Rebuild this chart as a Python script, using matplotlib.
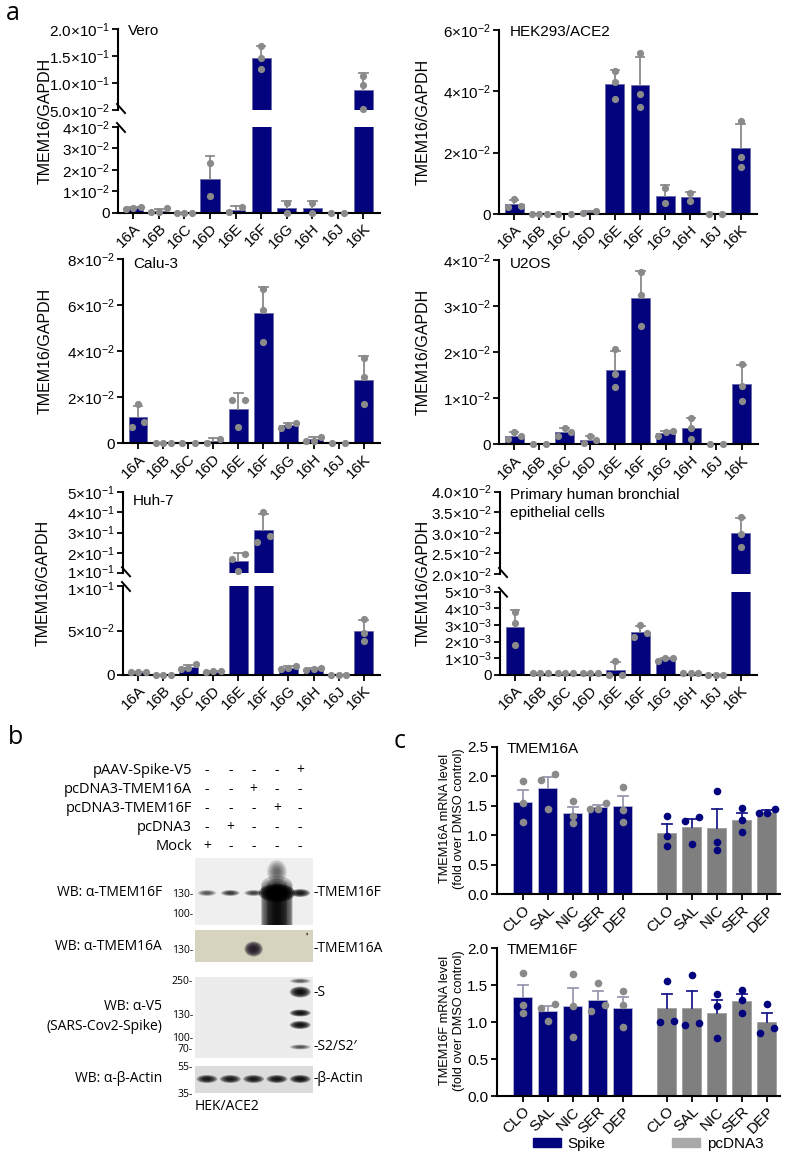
import numpy as np
import matplotlib
matplotlib.use("Agg")
import matplotlib.pyplot as plt
import matplotlib.transforms as mtrans
from matplotlib.patches import Ellipse, Patch

plt.rcParams['font.family'] = ['Liberation Sans', 'DejaVu Sans']
plt.rcParams['mathtext.fontset'] = 'custom'
plt.rcParams['mathtext.rm'] = 'Liberation Sans'
plt.rcParams['mathtext.it'] = 'Liberation Sans:italic'
plt.rcParams['mathtext.bf'] = 'Liberation Sans:bold'

# ---- data: panel a (TMEM16 / GAPDH, replicate points) ----
genes = ['16A', '16B', '16C', '16D', '16E', '16F', '16G', '16H', '16J', '16K']

vero = [[0.0015, 0.0028, 0.002], [0.0005, 0.002, 0.0005], [0, 0, 0], [0.0233, 0.0078],
        [0.0003, 0.0025], [0.168, 0.147, 0.126], [0.0047, 0.0], [0.0047, 0.0], [0, 0],
        [0.113, 0.096, 0.052]]
hek = [[0.0024, 0.0048, 0.0025], [0, 0, 0], [0, 0], [0.0004, 0.0009],
       [0.0467, 0.0431, 0.0374], [0.0525, 0.039, 0.0348], [0.0084, 0.0035], [0.0068, 0.0044],
       [0, 0], [0.0303, 0.0187, 0.0154]]
calu = [[0.0171, 0.0094, 0.0072], [0, 0, 0], [0, 0], [0.0003, 0.0018],
        [0.019, 0.019, 0.007], [0.0672, 0.058, 0.0442], [0.0067, 0.0087, 0.0079],
        [0.001, 0.0029, 0.0012], [0, 0], [0.0372, 0.0287, 0.017]]
u2os = [[0.0026, 0.0011, 0.0018], [0, 0], [0.0035, 0.0018, 0.0026], [0.0019, 0.0002, 0.0009],
        [0.0207, 0.0152, 0.0125], [0.0373, 0.0325, 0.0257], [0.0018, 0.0028, 0.0026],
        [0.0058, 0.0035, 0.0012], [0, 0], [0.0174, 0.0127, 0.0093]]
huh7 = [[0.003, 0.003, 0.003], [0, 0, 0], [0.012, 0.008, 0.0064], [0.004, 0.0035, 0.004],
        [0.193, 0.17, 0.113], [0.399, 0.283, 0.255], [0.01, 0.0075, 0.0064],
        [0.008, 0.0064, 0.0056], [0, 0, 0], [0.0625, 0.0476, 0.0386]]
phbe = [[0.0038, 0.0031, 0.0018], [0.0001, 0.0001, 0.0001], [0.0001, 0.0001, 0.0001],
        [0.0001, 0.0001, 0.0001], [0.00084, 0, 0], [0.003, 0.0023, 0.0025],
        [0.00084, 0.001, 0.001], [0.0001, 0.0001, 0.0001], [0, 0, 0], [0.0338, 0.0296, 0.0266]]

# ---- data: panel c (fold over DMSO) ----
drugs = ['CLO', 'SAL', 'NIC', 'SER', 'DEP']
a_spike = [[1.92, 1.54, 1.23], [2.03, 1.94, 1.44], [1.58, 1.33, 1.20], [1.55, 1.44, 1.44], [1.81, 1.43, 1.23]]
a_pcdna = [[1.33, 0.98, 0.82], [1.31, 1.24, 0.85], [1.75, 0.89, 0.75], [1.46, 1.26, 1.06], [1.45, 1.37, 1.37]]
f_spike = [[1.67, 1.23, 1.13], [1.25, 1.19, 1.02], [1.65, 1.22, 0.80], [1.53, 1.23, 1.15], [1.42, 1.23, 0.94]]
f_pcdna = [[1.56, 1.00, 1.02], [1.64, 0.96, 0.99], [1.38, 1.22, 0.79], [1.44, 1.30, 1.13], [1.24, 0.85, 0.92]]

# ---- data: panel b (blot) ----
row_labels = ['pAAV-Spike-V5', 'pcDNA3-TMEM16A', 'pcDNA3-TMEM16F', 'pcDNA3', 'Mock']
signs = [['-', '-', '-', '-', '+'],
         ['-', '-', '+', '-', '-'],
         ['-', '-', '-', '+', '-'],
         ['-', '+', '-', '-', '-'],
         ['+', '-', '-', '-', '-']]
f_band = [0.45, 0.6, 0.55, 0, 0.85]
actin_band = [0.85, 0.85, 0.85, 0.9, 0.95]
spike_rows = [4, 15, 36, 48, 70]
spike_h = [5, 11, 7, 8, 5]
spike_k = [0.4, 1.0, 0.95, 0.95, 0.45]

NAVY = '#03037e'
EDGE = '#6a6aa6'
DOT = '#8a8a8a'
GREYBAR = '#7f7f7f'
BFONT = ['Open Sans', 'DejaVu Sans']

W, H = 800, 1157
fig = plt.figure(figsize=(8, 11.57), dpi=100)


def rect(x0, y0, x1, y1):
    return [x0 / W, 1 - y1 / H, (x1 - x0) / W, (y1 - y0) / H]


ov = fig.add_axes([0, 0, 1, 1], zorder=10)
ov.set_xlim(0, W)
ov.set_ylim(H, 0)
ov.axis('off')
ov.patch.set_alpha(0)


def sci(v, dec=0):
    if v == 0:
        return '0'
    e = int(np.floor(np.log10(v) + 1e-9))
    m = v / 10 ** e
    return r'$\mathregular{%.*f{\times}10^{%d}}$' % (dec, m, e)


def spread(vals, topix, dot=6.5, step=0.3):
    order = np.argsort(vals, kind='stable')
    offs = np.zeros(len(vals))
    groups = []
    for i in order:
        if groups and abs(topix(vals[i]) - topix(vals[groups[-1][0]])) < dot:
            groups[-1].append(i)
        else:
            groups.append([i])
    for g in groups:
        pat = {1: [0], 2: [-step * 0.85, step * 0.85], 3: [-step, 0, step]}[len(g)]
        for k, i in enumerate(g):
            offs[i] = pat[k]
    return offs


def style(ax, bottom=True):
    for s in ['top', 'right']:
        ax.spines[s].set_visible(False)
    ax.spines['left'].set_linewidth(1.5)
    ax.spines['bottom'].set_linewidth(1.5)
    if not bottom:
        ax.spines['bottom'].set_visible(False)
        ax.tick_params(axis='x', bottom=False, labelbottom=False)
    ax.tick_params(direction='out', length=4.5, width=1.3, labelsize=11, pad=1.5)
    ax.patch.set_alpha(0)


def nudge(lab, dy_px):
    lab.set_transform(lab.get_transform() +
                      mtrans.ScaledTranslation(0, dy_px / 100, fig.dpi_scale_trans))


def bar_panel(pts, lo_box, lo_lim, lo_ticks, lo_dec, title, tpos, ylx,
              hi_box=None, hi_lim=None, hi_ticks=None, hi_dec=0):
    ax = fig.add_axes(rect(*lo_box))
    panels = [(ax, lo_lim)]
    if hi_box is not None:
        axh = fig.add_axes(rect(*hi_box))
        panels.append((axh, hi_lim))

    h_lo = lo_box[3] - lo_box[1]

    def topix(v):
        if hi_box is None or v <= lo_lim[1]:
            return (v - lo_lim[0]) / (lo_lim[1] - lo_lim[0]) * h_lo
        return (lo_box[3] - hi_box[3]) + (v - hi_lim[0]) / (hi_lim[1] - hi_lim[0]) * (hi_box[3] - hi_box[1])

    for i, p in enumerate(pts):
        p = np.array(p, dtype=float)
        m = p.mean()
        sd = p.std(ddof=1) if len(p) > 1 else 0
        offs = spread(p, topix)
        for a, lim in panels:
            a.bar(i, m, width=0.75, color=NAVY, edgecolor=EDGE, linewidth=0.6, zorder=2)
            if sd > 0:
                a.plot([i, i], [m, m + sd], color=DOT, lw=1.3, zorder=2.5)
                a.plot([i - 0.17, i + 0.17], [m + sd] * 2, color=DOT, lw=1.3, zorder=2.5)
            inside = (p >= lim[0] - 1e-12) & (p <= lim[1])
            if inside.any():
                a.plot(i + offs[inside], p[inside], 'o', color=DOT, ms=5.2, mec='none',
                       zorder=4, clip_on=False)
    for a, lim in panels:
        a.set_xlim(-0.6, 9.65)
        a.set_ylim(*lim)
    style(ax)
    ax.set_yticks(lo_ticks)
    ax.set_yticklabels([sci(t, lo_dec) for t in lo_ticks])
    ax.set_xticks(range(len(genes)))
    ax.set_xticklabels(genes, rotation=45, ha='right', va='top', rotation_mode='anchor')
    top = lo_box[1]
    if hi_box is not None:
        style(axh, bottom=False)
        axh.set_yticks(hi_ticks)
        axh.set_yticklabels([sci(t, hi_dec) for t in hi_ticks])
        if lo_box[1] - hi_box[3] < 15:
            nudge(axh.get_yticklabels()[0], 2.5)
            nudge(ax.get_yticklabels()[-1], -2.5)
        sx = lo_box[0]
        yu = hi_box[3]
        yl = lo_box[1]
        ov.plot([sx - 1, sx + 7], [yu - 6, yu + 3], color='k', lw=1.4)
        ov.plot([sx - 1, sx + 7], [yl - 4, yl + 5], color='k', lw=1.4)
        top = hi_box[1]
    ov.text(tpos[0], tpos[1], title, fontsize=11, va='center', ha='left', linespacing=1.45)
    ov.text(ylx, (top + lo_box[3]) / 2, 'TMEM16/GAPDH', rotation=90, fontsize=11.5,
            ha='center', va='center')


bar_panel(vero, (118, 127, 380, 212.7), (0, 0.04), [0, 0.01, 0.02, 0.03, 0.04], 0,
          'Vero', (128, 31), 45,
          hi_box=(118, 29, 380, 110), hi_lim=(0.05, 0.2), hi_ticks=[0.05, 0.1, 0.15, 0.2], hi_dec=1)
bar_panel(hek, (499, 30, 757, 214), (0, 0.06), [0, 0.02, 0.04, 0.06], 0,
          'HEK293/ACE2', (510, 32), 423)
bar_panel(calu, (123, 259.3, 380, 443.3), (0, 0.08), [0, 0.02, 0.04, 0.06, 0.08], 0,
          'Calu-3', (133, 264), 45)
bar_panel(u2os, (499, 260, 758, 444.3), (0, 0.04), [0, 0.01, 0.02, 0.03, 0.04], 0,
          'U2OS', (510, 264), 423)
bar_panel(huh7, (123, 586, 380, 675), (0, 0.1), [0, 0.05, 0.1], 0,
          'Huh-7', (133, 501), 43,
          hi_box=(123, 491.7, 380, 573.3), hi_lim=(0.1, 0.5), hi_ticks=[0.1, 0.2, 0.3, 0.4, 0.5], hi_dec=0)
bar_panel(phbe, (500, 591.7, 757, 675), (0, 0.005), [0, 0.001, 0.002, 0.003, 0.004, 0.005], 0,
          'Primary human bronchial\nepithelial cells', (510, 504), 423,
          hi_box=(500, 491.7, 757, 574), hi_lim=(0.02, 0.04),
          hi_ticks=[0.02, 0.025, 0.03, 0.035, 0.04], hi_dec=1)

# ---- panel c ----
xs_spike = np.arange(5)
xs_pcdna = np.arange(5) + 5.76


def c_panel(box, spike, pcdna, ylim, yticks, title, ylabel):
    ax = fig.add_axes(rect(*box))
    h = box[3] - box[1]

    def topix(v):
        return (v - ylim[0]) / (ylim[1] - ylim[0]) * h

    for xs, grp, fc, dc, ec in [(xs_spike, spike, NAVY, DOT, '#9a9ab0'),
                                (xs_pcdna, pcdna, GREYBAR, NAVY, '#1c1c8c')]:
        for x, p in zip(xs, grp):
            p = np.array(p)
            m = p.mean()
            se = p.std(ddof=1) / np.sqrt(len(p))
            offs = spread(p, topix, dot=7, step=0.32)
            ax.bar(x, m, width=0.77, color=fc, edgecolor='#b8b8d0' if fc == NAVY else '#a0a0a0',
                   linewidth=0.6, zorder=2)
            ax.plot([x, x], [m, m + se], color=ec, lw=1.3, zorder=2.5)
            ax.plot([x - 0.2, x + 0.2], [m + se] * 2, color=ec, lw=1.3, zorder=2.5)
            ax.plot(x + offs, p, 'o', color=dc, ms=5.5, mec='none', zorder=4, clip_on=False)
    ax.set_xlim(-1.04, 10.29)
    ax.set_ylim(*ylim)
    style(ax)
    ax.set_yticks(yticks)
    ax.set_yticklabels(['%.1f' % t for t in yticks])
    ax.set_xticks(list(xs_spike) + list(xs_pcdna))
    ax.set_xticklabels(drugs * 2, rotation=45, ha='right', va='top', rotation_mode='anchor')
    ov.text(box[0] + 10, box[1] + 2, title, fontsize=11, va='center', ha='left')
    ov.text(452, (box[1] + box[3]) / 2 - 2, ylabel, rotation=90, fontsize=9.2, ha='center',
            va='center', linespacing=1.3)


c_panel((496.7, 746.7, 780, 894.3), a_spike, a_pcdna, (0, 2.5), [0, 0.5, 1, 1.5, 2, 2.5],
        'TMEM16A', 'TMEM16A mRNA level\n(fold over DMSO control)')
c_panel((496.7, 948.3, 780, 1096), f_spike, f_pcdna, (0, 2.0), [0, 0.5, 1, 1.5, 2],
        'TMEM16F', 'TMEM16F mRNA level\n(fold over DMSO control)')

fig.legend([Patch(color=NAVY), Patch(color='#a9a9a9')], ['Spike', 'pcDNA3'],
           loc='center', bbox_to_anchor=(648 / W, 1 - 1144 / H), ncol=2, frameon=False,
           handlelength=1.85, handleheight=0.6, columnspacing=4.3, fontsize=11, handletextpad=0.45)

# ---- panel b: western blots ----
LX = (0.485, 5.55)
lanes = np.arange(1, 6)


def band(ax, x, y, w, h, k, color='k', n=7):
    for s in np.linspace(1.0, 0.3, n):
        ax.add_patch(Ellipse((x, y), w * s, h * s, color=color, alpha=min(1, k * 0.3), lw=0))


def blot(y0, y1, bg, ladder, ladder_lab):
    ax = fig.add_axes(rect(195, y0, 313, y1))
    ax.set_xlim(*LX)
    ax.set_ylim(y1 - y0, 0)
    ax.set_facecolor(bg)
    for s in ax.spines.values():
        s.set_visible(False)
    ax.set_xticks([])
    ax.set_yticks(ladder)
    ax.set_yticklabels(ladder_lab, family=BFONT, fontsize=7.5)
    ax.tick_params(axis='y', length=0, pad=1.5)
    return ax


# sign table
axs = fig.add_axes(rect(195, 761.2, 313, 856.2))
axs.set_xlim(*LX)
axs.set_ylim(4.5, -0.5)
axs.axis('off')
for r, row in enumerate(signs):
    for c, s in enumerate(row):
        axs.text(lanes[c], r, s, ha='center', va='center', fontsize=10, family=BFONT)
    ov.text(192, 770.7 + 19 * r, row_labels[r], ha='right', va='center', fontsize=10.5, family=BFONT)

b1 = blot(858, 925, '#efefef', [35, 55], ['130-', '100-'])
for x, k in zip(lanes, f_band):
    if k > 0:
        band(b1, x, 35, 0.85 if k > 0.8 else 0.8, 8 if k > 0.8 else 6, k)
band(b1, 4, 14, 0.85, 24, 0.35)
band(b1, 4, 35, 1.55, 18, 1.5)
for yy in np.arange(27, 75, 2.5):
    band(b1, 4, yy, 1.35, 18, 0.6, n=3)

b2 = blot(930, 962, '#d6d3bf', [19], ['130-'])
band(b2, 3, 19, 0.78, 15, 1.1, color='#1e1424')
band(b2, 5.3, 4, 0.08, 3, 1.0, color='#333333')

b3 = blot(977, 1058, '#ececec', [3, 37, 60, 71], ['250-', '130-', '100-', '70-'])
for yy, hh, kk in zip(spike_rows, spike_h, spike_k):
    band(b3, 5, yy, 0.9, hh, kk)

b4 = blot(1066, 1093, '#dcdcdc', [0, 27], ['55-', '35-'])
for x, k in zip(lanes, actin_band):
    band(b4, x, 13, 0.9, 8, k)

for y, s in [(893, 'WB: α-TMEM16F'), (946, 'WB: α-TMEM16A'), (1007, 'WB: α-V5'),
             (1026, '(SARS-Cov2-Spike)'), (1079, 'WB: α-β-Actin')]:
    ov.text(162, y, s, ha='right', va='center', fontsize=10, family=BFONT)
for y, s in [(893, '-TMEM16F'), (949, '-TMEM16A'), (992, '-S'), (1047, '-S2/S2\u2032'),
             (1079, '-β-Actin')]:
    ov.text(314, y, s, ha='left', va='center', fontsize=10, family=BFONT)
ov.text(195, 1107, 'HEK/ACE2', ha='left', va='center', fontsize=10, family=BFONT)

# panel letters
for x, y, s in [(13, 14, 'a'), (15, 737, 'b'), (400, 742, 'c')]:
    ov.text(x, y, s, ha='center', va='center', fontsize=18, family=BFONT)

fig.savefig('out.png', dpi=100)
